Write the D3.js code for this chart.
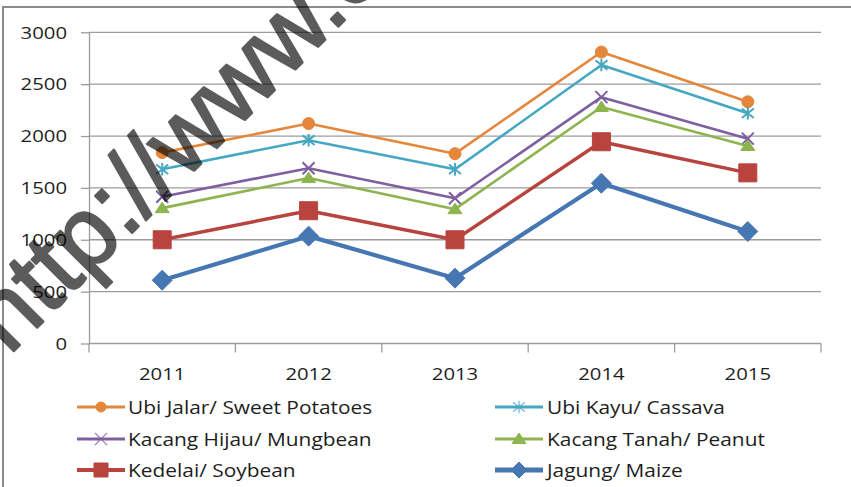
<!DOCTYPE html>
<html><head><meta charset="utf-8">
<script src="https://cdn.jsdelivr.net/npm/d3@7"></script>
<style>body{margin:0;background:#fff;} svg{display:block}</style>
</head><body>
<svg id="chart" width="851" height="487"></svg>
<script>
// ---- data ----
const years = ["2011", "2012", "2013", "2014", "2015"];
const seriesNames = ["Ubi Jalar/ Sweet Potatoes", "Ubi Kayu/ Cassava", "Kacang Hijau/ Mungbean",
                     "Kacang Tanah/ Peanut", "Kedelai/ Soybean", "Jagung/ Maize"];
const sweetPotatoes = [1840, 2120, 1830, 2810, 2330];
const cassava       = [1680, 1960, 1680, 2685, 2220];
const mungbean      = [1415, 1690, 1400, 2375, 1975];
const peanut        = [1305, 1595, 1295, 2280, 1905];
const soybean       = [1000, 1280, 1000, 1945, 1645];
const maize         = [610, 1035, 630, 1545, 1080];
const yTicks = [0, 500, 1000, 1500, 2000, 2500, 3000];
const watermark = "http://www.e";

const seriesValues = [sweetPotatoes, cassava, mungbean, peanut, soybean, maize];

// ---- styles ----
const styles = [
  {color: "#E5873B", marker: "circle",   lw: 2.6, ms: 6,  lms: 5,  llw: 3},
  {color: "#46A7C2", marker: "asterisk", lw: 2.6, ms: 6,  lms: 6,  llw: 3},
  {color: "#7E5FA0", marker: "x",        lw: 2.6, ms: 6,  lms: 6,  llw: 3},
  {color: "#8DB44E", marker: "triangle", lw: 2.6, ms: 7,  lms: 7,  llw: 3},
  {color: "#B8433F", marker: "square",   lw: 3.4, ms: 9,  lms: 7,  llw: 4},
  {color: "#4677B2", marker: "diamond",  lw: 4.2, ms: 10, lms: 8,  llw: 5}
];

function markerPath(type, r) {
  const p = d3.path();
  if (type === "circle") { p.arc(0, 0, r, 0, 2 * Math.PI); p.closePath(); }
  else if (type === "square") { p.rect(-r, -r, 2 * r, 2 * r); }
  else if (type === "diamond") { p.moveTo(0, -r); p.lineTo(r, 0); p.lineTo(0, r); p.lineTo(-r, 0); p.closePath(); }
  else if (type === "triangle") { p.moveTo(0, -r * 0.85); p.lineTo(r, r * 0.65); p.lineTo(-r, r * 0.65); p.closePath(); }
  else if (type === "x") { p.moveTo(-r, -r); p.lineTo(r, r); p.moveTo(r, -r); p.lineTo(-r, r); }
  else if (type === "asterisk") { p.moveTo(-r, -r * 0.8); p.lineTo(r, r * 0.8); p.moveTo(r, -r * 0.8); p.lineTo(-r, r * 0.8); p.moveTo(0, -r * 1.05); p.lineTo(0, r * 1.05); }
  return p.toString();
}
const strokeMarkers = new Set(["x", "asterisk"]);

const svg = d3.select("#chart");
const W = 851, H = 487;
const plotLeft = 89, plotRight = 821, plotTop = 32.3, plotBottom = 343.5;

const x = d3.scaleBand().domain(years).range([plotLeft, plotRight]).padding(0);
const cx = d => x(d) + x.bandwidth() / 2;
const y = d3.scaleLinear().domain([0, 3000]).range([plotBottom, plotTop]);

const FONT = "'Open Sans', 'Liberation Sans', sans-serif";
const TEXT = "#1e1e1e";
const STRETCH = 1.27;

// frame
svg.append("path")
  .attr("d", `M3,${H} L3,7 L${W},7`)
  .attr("fill", "none").attr("stroke", "#8c8c8c").attr("stroke-width", 2);

// gridlines
svg.append("g").selectAll("line").data(yTicks.filter(v => v > 0)).join("line")
  .attr("x1", plotLeft).attr("x2", plotRight)
  .attr("y1", d => y(d)).attr("y2", d => y(d))
  .attr("stroke", "#9c9c9c").attr("stroke-width", 1.3);

// y axis
const yAxis = svg.append("g").attr("transform", `translate(${plotLeft},0)`)
  .call(d3.axisLeft(y).tickValues(yTicks).tickFormat(d3.format("d")).tickSize(8).tickSizeOuter(0));
yAxis.select(".domain").attr("stroke", "#9c9c9c").attr("stroke-width", 1.3);
yAxis.selectAll(".tick line").attr("stroke", "#9c9c9c").attr("stroke-width", 1.3);
yAxis.selectAll(".tick text")
  .attr("x", null).attr("dy", "0.36em")
  .attr("transform", `translate(-22,0) scale(${STRETCH},1)`)
  .attr("font-family", FONT).attr("font-size", 16).attr("fill", TEXT);

// x axis line
const xAxis = svg.append("g").attr("transform", `translate(0,${plotBottom})`);
xAxis.append("line").attr("x1", plotLeft).attr("x2", plotRight)
  .attr("stroke", "#9c9c9c").attr("stroke-width", 1.3);
const boundaries = years.map(d => x(d)).concat([x(years[years.length - 1]) + x.bandwidth()]);
xAxis.selectAll("line.tk").data(boundaries).join("line").attr("class", "tk")
  .attr("x1", d => d).attr("x2", d => d).attr("y1", 0).attr("y2", 9)
  .attr("stroke", "#9c9c9c").attr("stroke-width", 1.3);
xAxis.selectAll("text").data(years).join("text")
  .attr("transform", d => `translate(${cx(d)},36) scale(${STRETCH},1)`)
  .attr("text-anchor", "middle")
  .attr("font-family", FONT).attr("font-size", 16).attr("fill", TEXT)
  .text(d => d);

// series
const seriesG = svg.append("g");
seriesValues.forEach((vals, i) => {
  const st = styles[i];
  const pts = years.map((yr, j) => [cx(yr), y(vals[j])]);
  seriesG.append("path").attr("d", d3.line()(pts))
    .attr("fill", "none").attr("stroke", st.color).attr("stroke-width", st.lw)
    .attr("stroke-linejoin", "round").attr("stroke-linecap", "round");
  seriesG.append("g").selectAll("path").data(pts).join("path")
    .attr("transform", d => `translate(${d[0]},${d[1]})`)
    .attr("d", markerPath(st.marker, st.ms))
    .attr("fill", strokeMarkers.has(st.marker) ? "none" : st.color)
    .attr("stroke", st.color)
    .attr("stroke-width", strokeMarkers.has(st.marker) ? 2 : 1);
});

// legend
const legX = [77, 495];
const legY = [407, 439, 470];
const leg = svg.append("g");
seriesNames.forEach((name, i) => {
  const st = styles[i];
  const lx = legX[i % 2], ly = legY[Math.floor(i / 2)];
  const g = leg.append("g").attr("transform", `translate(${lx},${ly})`);
  g.append("line").attr("x1", 0).attr("x2", 48).attr("y1", 0).attr("y2", 0)
    .attr("stroke", st.color).attr("stroke-width", st.llw);
  g.append("path").attr("transform", "translate(24,0)")
    .attr("d", markerPath(st.marker, st.lms))
    .attr("fill", strokeMarkers.has(st.marker) ? "none" : st.color)
    .attr("stroke", st.color).attr("stroke-width", strokeMarkers.has(st.marker) ? 1.3 : 1)
    .attr("opacity", strokeMarkers.has(st.marker) ? 0.75 : 1);
  g.append("text")
    .attr("transform", `translate(${i % 2 === 0 ? 51 : 52},0) scale(1.13,1)`)
    .attr("dy", "0.36em")
    .attr("font-family", FONT).attr("font-size", 18.5).attr("fill", TEXT)
    .text(name);
});

// watermark
svg.append("g").attr("opacity", 0.64)
  .append("text")
  .attr("transform", "translate(9,356) rotate(-45)")
  .attr("font-family", "'Liberation Sans', Arial, sans-serif")
  .attr("font-size", 99)
  .attr("fill", "#000").attr("stroke", "#000").attr("stroke-width", 2.2)
  .attr("stroke-linejoin", "round")
  .text(watermark);
</script>
</body></html>
